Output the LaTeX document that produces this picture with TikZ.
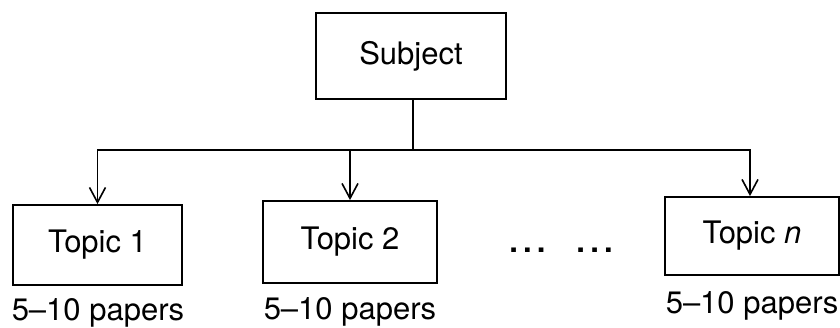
\documentclass[tikz,border=0pt]{standalone}
\usepackage{fontspec}
\setmainfont{TeX Gyre Heros}
\usetikzlibrary{arrows.meta}
\begin{document}
\begin{tikzpicture}[x=0.5pt,y=-0.5pt,
  box/.style={draw,line width=0.9pt,inner sep=0pt,font=\fontsize{15.5}{18}\selectfont},
  lbl/.style={inner sep=0pt,anchor=base,font=\fontsize{15.5}{18}\selectfont},
  conn/.style={line width=0.9pt},
  arr/.style={conn,-{Straight Barb[length=7.5pt,width=8pt,line width=0.8pt]}}]
\useasboundingbox (0,0) rectangle (840,327);
\node[box,minimum width=95pt,minimum height=43pt] (subj) at (411,56) {Subject};
\node[box,minimum width=84.5pt,minimum height=40pt] (t1) at (97.5,245) {Topic 1};
\node[box,minimum width=87pt,minimum height=41pt] (t2) at (350,242) {Topic 2};
\node[box,minimum width=87pt,minimum height=39pt] (tn) at (752,236) {Topic \textit{n}};
\node[lbl] (l1) at (98,320) {5–10 papers};
\node[lbl] (l2) at (350,319.5) {5–10 papers};
\node[lbl] (ln) at (752,313) {5–10 papers};
\node[lbl] (dots) at (561,252) {\textbf{.\,.\,.\quad.\,.\,.}};
\coordinate (j) at (413,150);
\draw[conn] (subj.south -| j) -- (j);
\draw[arr] (j) -| (t1.north);
\draw[arr] (j) -| (tn.north -| 750,0);
\draw[arr] (t2.north |- j) -- (t2.north);
\end{tikzpicture}
\end{document}
